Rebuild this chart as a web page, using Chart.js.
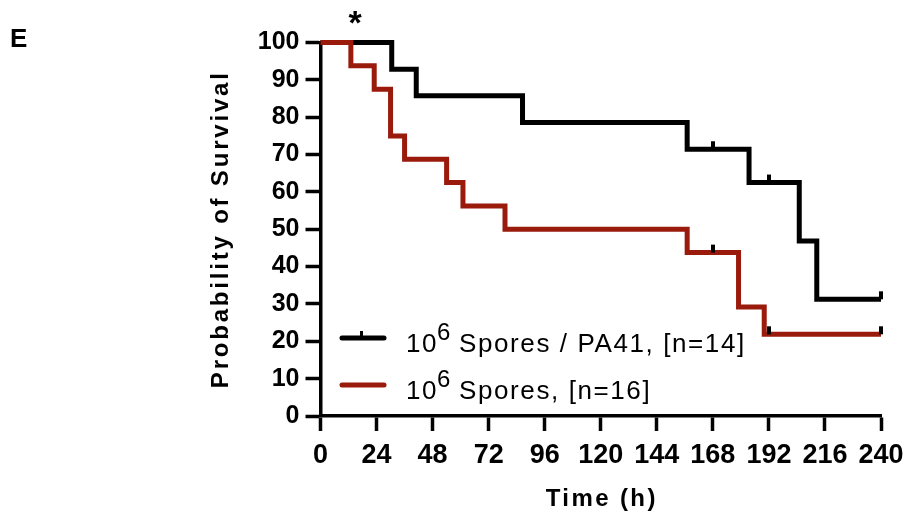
<!DOCTYPE html>
<html>
<head>
<meta charset="utf-8">
<script src="https://cdn.jsdelivr.net/npm/chart.js@4.4.1/dist/chart.umd.min.js"></script>
<style>
  html, body { margin: 0; padding: 0; background: #fff; }
</style>
</head>
<body>
<canvas id="chart" width="906" height="516"></canvas>
<script>
// axis ranges
const timeMax = 240
const timeStep = 24
const survivalMax = 100
const survivalStep = 10

// 10^6 Spores / PA41, n=14 (black)
const pa41Times = [0, 30.5, 41, 86.5, 157, 183.5, 205, 212.5, 240]
const pa41Survival = [100, 92.86, 85.71, 78.57, 71.43, 62.5, 46.88, 31.25, 31.25]
const pa41CensorTimes = [168, 192, 240]
const pa41CensorSurvival = [71.43, 62.5, 31.25]

// 10^6 Spores, n=16 (red)
const sporesTimes = [0, 13, 23, 30, 36, 54, 61, 79, 157, 179, 190, 240]
const sporesSurvival = [100, 93.75, 87.5, 75, 68.75, 62.5, 56.25, 50, 43.75, 29.17, 21.88, 21.88]
const sporesCensorTimes = [168, 192, 240]
const sporesCensorSurvival = [43.75, 21.88, 21.88]

const seriesNames = ["Spores / PA41, [n=14]", "Spores, [n=16]"]
const RED = "#9a1a0c"
const FONT = "'Liberation Sans', Arial, sans-serif"

const toPoints = (xs, ys) => xs.map((x, i) => ({ x: x, y: ys[i] }))

// small vertical tick sitting on top of the line (censored subject)
function censorMark() {
    const c = document.createElement("canvas")
    c.width = 4
    c.height = 22
    const g = c.getContext("2d")
    g.fillStyle = "#000"
    g.fillRect(0, 3, 4, 8)
    return c
}
const mark = censorMark()

function spaced(ctx, text, x, y, spacing) {
    ctx.letterSpacing = spacing + "px"
    ctx.fillText(text, x, y)
    ctx.letterSpacing = "0px"
}

const decorations = {
    id: "decorations",
    afterDraw(chart) {
        const ctx = chart.ctx
        const area = chart.chartArea
        ctx.save()
        ctx.fillStyle = "#000"

        // axis titles
        ctx.font = "bold 24px " + FONT
        ctx.textAlign = "center"
        ctx.textBaseline = "alphabetic"
        spaced(ctx, "Time (h)", (area.left + area.right) / 2 + 1, 506, 2.4)
        ctx.save()
        ctx.translate(228, (area.top + area.bottom) / 2)
        ctx.rotate(-Math.PI / 2)
        spaced(ctx, "Probability of Survival", 0, 0, 2.8)
        ctx.restore()

        // panel letter and significance star
        ctx.textAlign = "left"
        ctx.font = "bold 26px " + FONT
        ctx.fillText("E", 10, 47)
        ctx.textAlign = "center"
        ctx.font = "bold 34px " + FONT
        ctx.fillText("*", 355, 34)

        // legend
        const rows = [
            { color: "#000", y: 338, tick: true, name: seriesNames[0] },
            { color: RED, y: 385, tick: false, name: seriesNames[1] }
        ]
        rows.forEach(r => {
            ctx.strokeStyle = r.color
            ctx.lineWidth = 5
            ctx.lineCap = "round"
            ctx.beginPath()
            ctx.moveTo(342, r.y)
            ctx.lineTo(384, r.y)
            ctx.stroke()
            if (r.tick) {
                ctx.fillStyle = "#000"
                ctx.fillRect(360, r.y - 7, 3, 7)
            }
            ctx.fillStyle = "#000"
            ctx.textAlign = "left"
            ctx.font = "26px " + FONT
            spaced(ctx, "10", 406, r.y + 14, 1.5)
            ctx.font = "24px " + FONT
            spaced(ctx, "6", 437, r.y + 2, 0)
            ctx.font = "26px " + FONT
            spaced(ctx, r.name, 459, r.y + 14, 1.6)
        })
        ctx.restore()
    }
}

const axisStyle = {
    grid: { drawOnChartArea: false, tickLength: 15, tickWidth: 3.5, tickColor: "#000" },
    border: { color: "#000", width: 3.5 }
}

new Chart(document.getElementById("chart"), {
    type: "line",
    data: {
        datasets: [
            {
                data: toPoints(pa41CensorTimes, pa41CensorSurvival).concat(toPoints(sporesCensorTimes, sporesCensorSurvival)),
                showLine: false,
                pointStyle: mark,
                pointRadius: 6,
                order: 0,
                clip: false
            },
            {
                data: toPoints(sporesTimes, sporesSurvival),
                borderColor: RED,
                borderWidth: 5,
                stepped: "before",
                pointRadius: 0,
                order: 1,
                clip: false
            },
            {
                data: toPoints(pa41Times, pa41Survival),
                borderColor: "#000",
                borderWidth: 5,
                stepped: "before",
                pointRadius: 0,
                order: 2,
                clip: false
            }
        ]
    },
    options: {
        responsive: false,
        animation: false,
        layout: { padding: { left: 195, right: 25, top: 42.5, bottom: 0 } },
        plugins: {
            legend: { display: false },
            tooltip: { enabled: false }
        },
        scales: {
            x: {
                type: "linear",
                min: 0,
                max: timeMax,
                ...axisStyle,
                ticks: {
                    stepSize: timeStep,
                    autoSkip: false,
                    maxRotation: 0,
                    color: "#000",
                    padding: 8,
                    font: { family: FONT, size: 27, weight: "bold" }
                },
                afterFit: s => {
                    s.height = 100
                    s.paddingLeft = 0
                    s.paddingRight = 0
                }
            },
            y: {
                min: 0,
                max: survivalMax,
                ...axisStyle,
                ticks: {
                    stepSize: survivalStep,
                    color: "#000",
                    padding: 6,
                    font: { family: FONT, size: 25, weight: "bold" }
                },
                afterFit: s => {
                    s.width = 125.5
                    s.paddingTop = 0
                    s.paddingBottom = 0
                }
            }
        }
    },
    plugins: [decorations]
})
</script>
</body>
</html>
